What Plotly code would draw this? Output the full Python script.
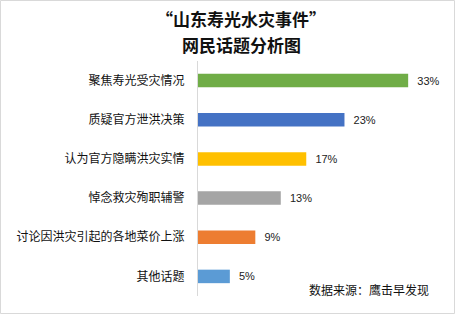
import plotly.graph_objects as go

categories = ["聚焦寿光受灾情况", "质疑官方泄洪决策", "认为官方隐瞒洪灾实情",
              "悼念救灾殉职辅警", "讨论因洪灾引起的各地菜价上涨", "其他话题"]
values = [33, 23, 17, 13, 9, 5]
colors = ["#70AD47", "#4472C4", "#FFC000", "#A5A5A5", "#ED7D31", "#5B9BD5"]
title_lines = ["“山东寿光水灾事件”", "网民话题分析图"]
source_text = "数据来源：鹰击早发现"

W, H = 455, 314
L, R_EDGE, T, B_EDGE = 198, 440, 61, 296
pw, ph = R_EDGE - L, B_EDGE - T

fig = go.Figure(go.Bar(
    y=categories, x=values, orientation="h",
    marker=dict(color=colors, line=dict(width=0)),
    text=[f"{v}%" for v in values], textposition="outside",
    texttemplate="  %{text}",
    textfont=dict(family="Liberation Sans, Arial", size=11, color="#222222"),
    cliponaxis=False, width=0.345,
))

title_ann = []
for i, (line, yc) in enumerate(zip(title_lines, [18.5, 44])):
    title_ann.append(dict(text="<b>" + line + "</b>", xref="paper", yref="paper",
                          x=(241 - L) / pw, y=(B_EDGE - yc) / ph, xanchor="center", yanchor="middle",
                          showarrow=False, font=dict(family="Noto Sans CJK SC", size=17, color="#111111")))

fig.update_layout(
    width=W, height=H,
    margin=dict(l=L, r=W - R_EDGE, t=T, b=H - B_EDGE),
    paper_bgcolor="white", plot_bgcolor="white",
    showlegend=False,
    xaxis=dict(range=[0, 38], visible=False, fixedrange=True),
    yaxis=dict(autorange="reversed", showline=True, linecolor="#d9d9d9", linewidth=1,
               ticks="", showgrid=False, ticklabelstandoff=10,
               tickfont=dict(family="Noto Sans CJK SC", size=12, color="#111111")),
    annotations=title_ann + [
        dict(text=source_text, xref="paper", yref="paper",
             x=(307 - L) / pw, y=(B_EDGE - 289) / ph, xanchor="left", yanchor="middle",
             showarrow=False, font=dict(family="Noto Sans CJK SC", size=12, color="#111111")),
    ],
    shapes=[dict(type="rect", xref="paper", yref="paper",
                 x0=(0.5 - L) / pw, x1=(454.5 - L) / pw,
                 y0=(B_EDGE - 313.5) / ph, y1=(B_EDGE - 0.5) / ph,
                 line=dict(color="#d9d9d9", width=1), layer="below")],
)

fig.write_html("out.html")
